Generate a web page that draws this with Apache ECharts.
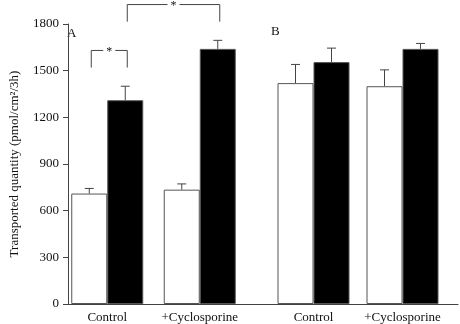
<!DOCTYPE html>
<html>
<head>
<meta charset="utf-8">
<script src="https://cdn.jsdelivr.net/npm/echarts@6/dist/echarts.min.js"></script>
<style>
  html, body { margin: 0; padding: 0; background: #fff; }
  #chart { width: 460px; height: 324px; }
</style>
</head>
<body>
<div id="chart"></div>
<script>
// data
var groups = ["Control", "+Cyclosporine"];
var yTicks = [0, 300, 600, 900, 1200, 1500, 1800];

var panelAWhite = [710, 735];
var panelAWhiteErr = [33, 37];
var panelABlack = [1310, 1640];
var panelABlackErr = [90, 55];

var panelBWhite = [1420, 1400];
var panelBWhiteErr = [120, 105];
var panelBBlack = [1555, 1640];
var panelBBlackErr = [90, 35];

// significance brackets in panel A: [fromGroup, fromBar, toGroup, toBar, low, high]  (bar 0 = white, 1 = black)
var sigBrackets = [
  [0, 0, 0, 1, 1520, 1630],
  [0, 1, 1, 1, 1815, 1925]
];

var FONT = "Liberation Serif";
var LINE = "#444";
var BAR_W = 36;

var myChart = echarts.init(document.getElementById("chart"));

function barOffset(bar) {
  return bar === 0 ? -BAR_W / 2 : BAR_W / 2;
}

function errorSeries(axis, vals, errs, bar) {
  return {
    type: "custom",
    xAxisIndex: axis,
    yAxisIndex: axis,
    z: 5,
    data: vals.map(function (v, i) { return [i, v, errs[i]]; }),
    renderItem: function (params, api) {
      var base = api.coord([api.value(0), api.value(1)]);
      var top = api.coord([api.value(0), api.value(1) + api.value(2)]);
      var cx = base[0] + barOffset(bar);
      var st = { stroke: LINE, lineWidth: 1 };
      return {
        type: "group",
        children: [
          { type: "line", shape: { x1: cx, y1: base[1], x2: cx, y2: top[1] }, style: st },
          { type: "line", shape: { x1: cx - 4.5, y1: top[1], x2: cx + 4.5, y2: top[1] }, style: st }
        ]
      };
    }
  };
}

function barSeries(axis, vals, color) {
  return {
    type: "bar",
    xAxisIndex: axis,
    yAxisIndex: axis,
    barWidth: BAR_W,
    barGap: "0%",
    data: vals,
    itemStyle: { color: color, borderColor: "#555", borderWidth: 1 }
  };
}

var catAxisLabel = { fontFamily: FONT, fontSize: 13, color: "#111", margin: 7, interval: 0 };

var option = {
  animation: false,
  grid: [
    { left: 61, right: 2, top: 24, height: 280 },
    { left: 61, width: 185, top: 24, height: 280 },
    { left: 269, width: 178, top: 24, height: 280 }
  ],
  xAxis: [
    {
      gridIndex: 0, type: "value", min: 0, max: 1,
      axisLine: { show: true, lineStyle: { color: LINE } },
      axisTick: { show: false }, axisLabel: { show: false }, splitLine: { show: false }
    },
    {
      gridIndex: 1, type: "category", data: groups,
      axisLine: { show: false }, axisTick: { show: false }, axisLabel: catAxisLabel
    },
    {
      gridIndex: 2, type: "category", data: groups,
      axisLine: { show: false }, axisTick: { show: false }, axisLabel: catAxisLabel
    }
  ],
  yAxis: [
    {
      gridIndex: 0, type: "value",
      min: yTicks[0], max: yTicks[yTicks.length - 1], interval: 300,
      name: "Transported quantity (pmol/cm\u00B2/3h)",
      nameLocation: "middle", nameGap: 47,
      nameTextStyle: { fontFamily: FONT, fontSize: 13, color: "#111" },
      axisLine: { show: true, lineStyle: { color: LINE } },
      axisTick: { show: true, length: 5, lineStyle: { color: LINE } },
      axisLabel: {
        fontFamily: FONT, fontSize: 13, color: "#111", margin: 9,
        formatter: function (v) { return String(v); }
      },
      splitLine: { show: false }
    },
    { gridIndex: 1, type: "value", min: 0, max: 1800, show: false },
    { gridIndex: 2, type: "value", min: 0, max: 1800, show: false }
  ],
  graphic: [
    { type: "text", left: 67, top: 27, style: { text: "A", font: "13px " + FONT, fill: "#111" } },
    { type: "text", left: 271, top: 25, style: { text: "B", font: "13px " + FONT, fill: "#111" } }
  ],
  series: [
    barSeries(1, panelAWhite, "#fff"),
    barSeries(1, panelABlack, "#000"),
    barSeries(2, panelBWhite, "#fff"),
    barSeries(2, panelBBlack, "#000"),
    errorSeries(1, panelAWhite, panelAWhiteErr, 0),
    errorSeries(1, panelABlack, panelABlackErr, 1),
    errorSeries(2, panelBWhite, panelBWhiteErr, 0),
    errorSeries(2, panelBBlack, panelBBlackErr, 1),
    {
      // significance brackets
      type: "custom",
      xAxisIndex: 1,
      yAxisIndex: 1,
      clip: false,
      z: 6,
      data: sigBrackets,
      renderItem: function (params, api) {
        var lo = api.value(4), hi = api.value(5);
        var x1 = api.coord([api.value(0), lo])[0] + barOffset(api.value(1)) + 2;
        var x2 = api.coord([api.value(2), lo])[0] + barOffset(api.value(3)) + 2;
        var yLo = api.coord([0, lo])[1];
        var yHi = api.coord([0, hi])[1];
        return {
          type: "group",
          children: [
            {
              type: "polyline",
              shape: { points: [[x1, yLo], [x1, yHi], [x2, yHi], [x2, yLo]] },
              style: { stroke: LINE, lineWidth: 1, fill: null }
            },
            {
              type: "text",
              x: (x1 + x2) / 2,
              y: yHi + 1,
              style: {
                text: "*", font: "12px " + FONT, fill: "#111",
                align: "center", verticalAlign: "middle",
                backgroundColor: "#fff", padding: [0, 3]
              }
            }
          ]
        };
      }
    }
  ]
};

myChart.setOption(option);
</script>
</body>
</html>
